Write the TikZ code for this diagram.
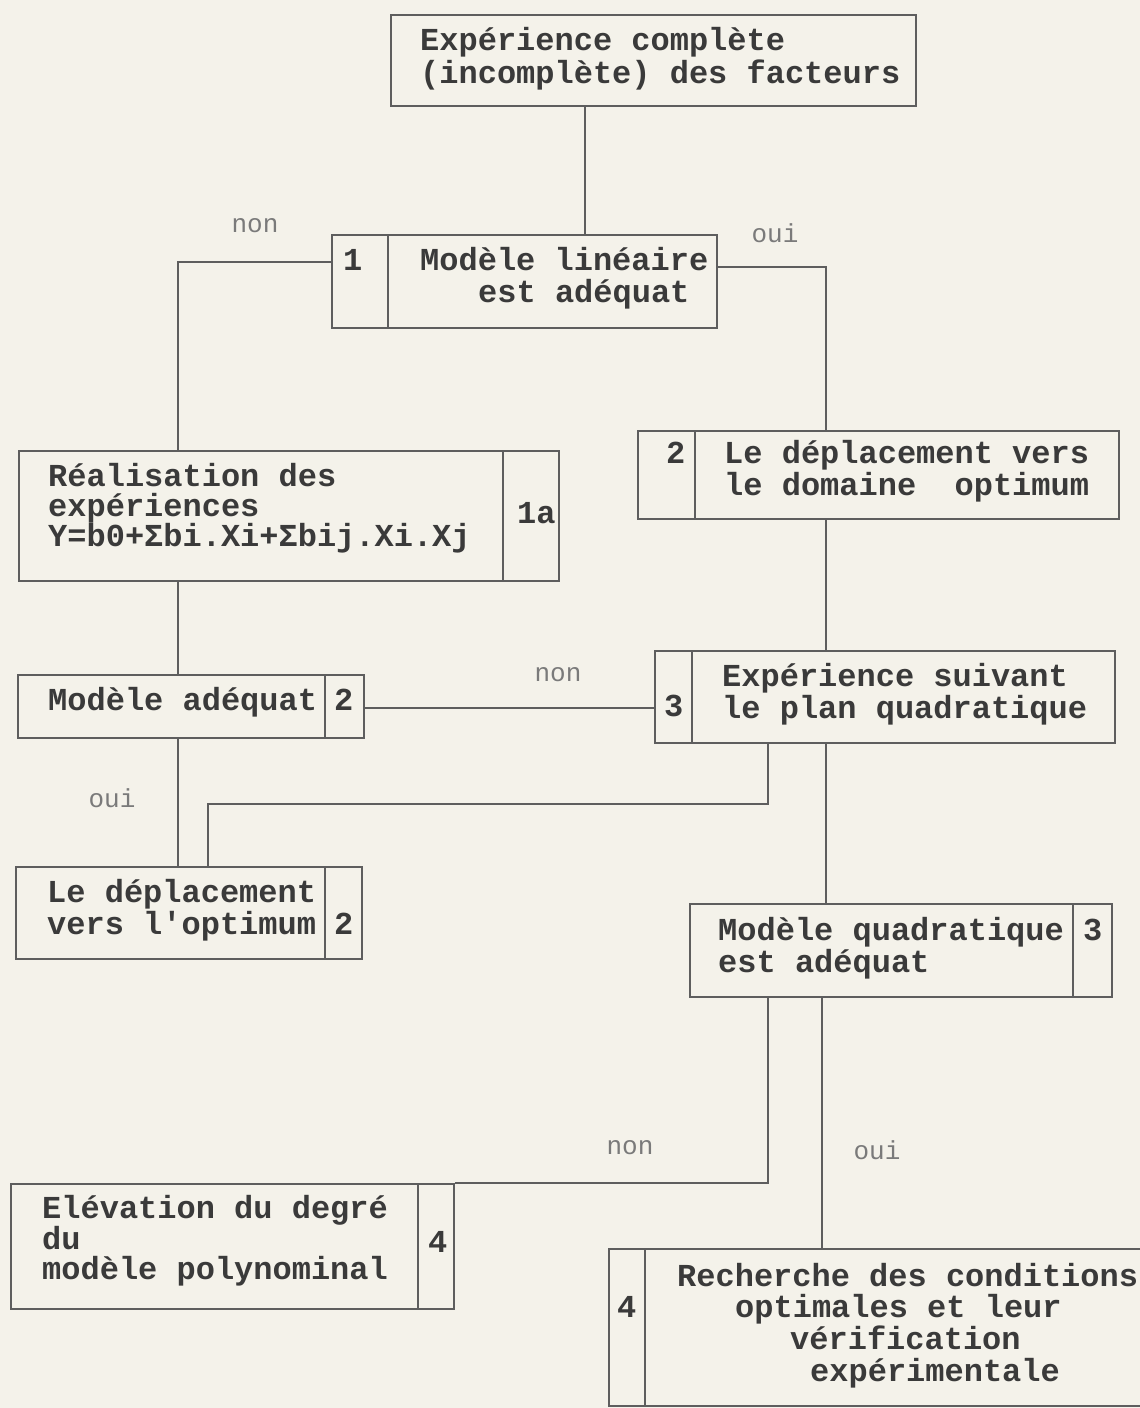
\documentclass[tikz,border=0pt]{standalone}
\usepackage{fontspec}
\setmonofont{Liberation Mono}
\definecolor{paper}{HTML}{F4F2EA}
\definecolor{ink}{HTML}{5E5E5E}
\definecolor{txt}{HTML}{3A3A3A}
\definecolor{lbl}{HTML}{7A7A7A}
\begin{document}
\begin{tikzpicture}[x=1pt,y=-1pt,
  box/.style={draw=ink,line width=2pt,rectangle,inner sep=0pt,anchor=north west},
  tx/.style={font=\ttfamily\bfseries\fontsize{32}{34}\selectfont,text=txt,inner sep=0pt,anchor=base west},
  lb/.style={font=\ttfamily\fontsize{26}{28}\selectfont,text=lbl,inner sep=0pt,anchor=center},
  conn/.style={draw=ink,line width=2pt}]
\fill[paper] (0,0) rectangle (1140,1408);
\useasboundingbox (0,0) rectangle (1140,1408);

% boxes
\node[box,minimum width=525pt,minimum height=91pt] (b0) at (390,14) {};
\node[box,minimum width=385pt,minimum height=93pt] (b1) at (331,234) {};
\node[box,minimum width=540pt,minimum height=130pt] (b1a) at (18,450) {};
\node[box,minimum width=481pt,minimum height=88pt] (b2) at (637,430) {};
\node[box,minimum width=346pt,minimum height=63pt] (bma) at (17,674) {};
\node[box,minimum width=460pt,minimum height=92pt] (b3) at (654,650) {};
\node[box,minimum width=346pt,minimum height=92pt] (bld) at (15,866) {};
\node[box,minimum width=422pt,minimum height=93pt] (bmq) at (689,903) {};
\node[box,minimum width=443pt,minimum height=125pt] (bel) at (10,1183) {};
\node[box,minimum width=545pt,minimum height=157pt] (brc) at (608,1248) {};

% dividers
\draw[conn] (388,234) -- (388,327);
\draw[conn] (503,450) -- (503,580);
\draw[conn] (695,430) -- (695,518);
\draw[conn] (325,674) -- (325,737);
\draw[conn] (692,650) -- (692,742);
\draw[conn] (325,866) -- (325,958);
\draw[conn] (1073,903) -- (1073,996);
\draw[conn] (418,1183) -- (418,1308);
\draw[conn] (645,1248) -- (645,1405);

% texts
\node[tx] (t0a) at (420,50) {Expérience complète};
\node[tx] (t0b) at (420,83) {(incomplète) des facteurs};
\node[tx] (t1n) at (343,270) {1};
\node[tx] (t1a) at (420,270) {Modèle linéaire};
\node[tx] (t1b) at (478,302) {est adéquat};
\node[tx] (tra) at (48,486) {Réalisation des};
\node[tx] (trb) at (48,516) {expériences};
\node[tx] (trc) at (48,546) {Y=b0+Σbi.Xi+Σbij.Xi.Xj};
\node[tx] (trn) at (517,523) {1a};
\node[tx] (t2n) at (666,463) {2};
\node[tx] (t2a) at (724,463) {Le déplacement vers};
\node[tx] (t2b) at (724,495) {le domaine\ \ optimum};
\node[tx] (tma) at (48,710) {Modèle adéquat};
\node[tx] (tman) at (334,710) {2};
\node[tx] (t3n) at (664,716) {3};
\node[tx] (t3a) at (722,686) {Expérience suivant};
\node[tx] (t3b) at (722,718) {le plan quadratique};
\node[tx] (tlda) at (47,902) {Le déplacement};
\node[tx] (tldb) at (47,934) {vers l'optimum};
\node[tx] (tldn) at (334,934) {2};
\node[tx] (tmqa) at (718,940) {Modèle quadratique};
\node[tx] (tmqb) at (718,972) {est adéquat};
\node[tx] (tmqn) at (1083,940) {3};
\node[tx] (tela) at (42,1218) {Elévation du degré};
\node[tx] (telb) at (42,1249) {du};
\node[tx] (telc) at (42,1279) {modèle polynominal};
\node[tx] (teln) at (428,1252) {4};
\node[tx] (trca) at (677,1286) {Recherche des conditions};
\node[tx] (trcb) at (735,1317) {optimales et leur};
\node[tx] (trcc) at (790,1349) {vérification};
\node[tx] (trcd) at (810,1381) {expérimentale};
\node[tx] (trcn) at (617,1317) {4};

% labels
\node[lb] (l1) at (255,226) {non};
\node[lb] (l2) at (775,233) {oui};
\node[lb] (l3) at (558,675) {non};
\node[lb] (l4) at (112,798) {oui};
\node[lb] (l5) at (630,1148) {non};
\node[lb] (l6) at (877,1150) {oui};

% helper coordinates
\coordinate (x585) at (585,0);
\coordinate (x178) at (178,0);
\coordinate (x826) at (826,0);
\coordinate (x768) at (768,0);
\coordinate (x208) at (208,0);
\coordinate (x822) at (822,0);
\coordinate (y262) at (0,262);
\coordinate (y267) at (0,267);
\coordinate (y708) at (0,708);
\coordinate (y804) at (0,804);

% connectors
\draw[conn] (b0.south -| x585) -- (b1.north -| x585);
\draw[conn] (b1.west |- y262) -| (b1a.north -| x178);
\draw[conn] (b1.east |- y267) -| (b2.north -| x826);
\draw[conn] (b2.south -| x826) -- (b3.north -| x826);
\draw[conn] (b1a.south -| x178) -- (bma.north -| x178);
\draw[conn] (bma.east |- y708) -- (b3.west |- y708);
\draw[conn] (bma.south -| x178) -- (bld.north -| x178);
\draw[conn] (b3.south -| x768) -- (x768 |- y804) -| (bld.north -| x208);
\draw[conn] (b3.south -| x826) -- (bmq.north -| x826);
\draw[conn] (bmq.south -| x768) |- (bel.north east);
\draw[conn] (bmq.south -| x822) -- (brc.north -| x822);
\end{tikzpicture}
\end{document}
